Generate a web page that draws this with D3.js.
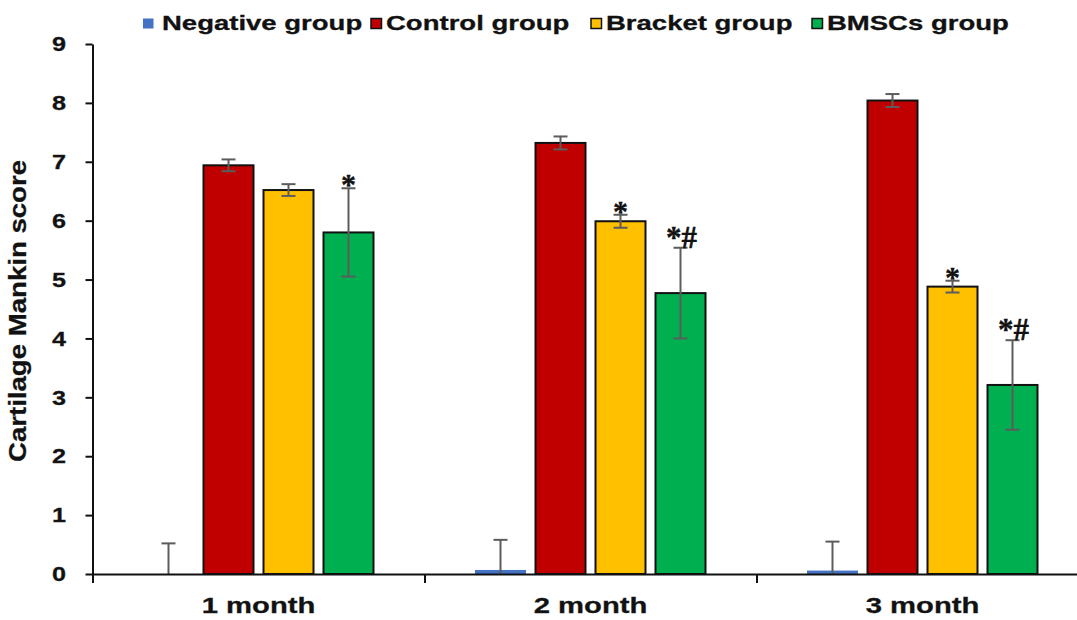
<!DOCTYPE html>
<html>
<head>
<meta charset="utf-8">
<script src="https://cdn.jsdelivr.net/npm/d3@7"></script>
<style>
  html, body { margin: 0; padding: 0; background: #fff; }
  svg { display: block; }
  text { font-family: "Liberation Sans", Arial, sans-serif; font-weight: bold; fill: #111; }
</style>
</head>
<body>
<svg id="chart" width="1077" height="620"></svg>
<script>
// Time points and groups
const months = ["1 month", "2 month", "3 month"];
const groups = ["Negative group", "Control group", "Bracket group", "BMSCs group"];

// Mean Mankin score per group at each time point
const negative = [0.00, 0.06, 0.05];
const control  = [6.94, 7.32, 8.04];
const bracket  = [6.52, 5.99, 4.88];
const bmscs    = [5.80, 4.77, 3.21];

// Error (± SD) per group at each time point
const negativeErr = [0.52, 0.52, 0.50];
const controlErr  = [0.10, 0.11, 0.11];
const bracketErr  = [0.10, 0.11, 0.10];
const bmscsErr    = [0.75, 0.77, 0.76];

// Significance marks shown above bars
const bracketMarks = ["", "*", "*"];
const bmscsMarks   = ["*", "*#", "*#"];

const yTicks = [0, 1, 2, 3, 4, 5, 6, 7, 8, 9];

const colors = ["#4472C4", "#C00000", "#FFC000", "#00B050"];

const values = [negative, control, bracket, bmscs];
const errors = [negativeErr, controlErr, bracketErr, bmscsErr];
const marks  = [months.map(() => ""), months.map(() => ""), bracketMarks, bmscsMarks];

const rows = [];
months.forEach((m, i) => {
  groups.forEach((g, j) => {
    rows.push({ month: m, group: g, gi: j, value: values[j][i], err: errors[j][i], mark: marks[j][i] });
  });
});

const svg = d3.select("#chart");
const plotLeft = 92.5, plotBottom = 574, plotTop = 44;
const catW = 332;

const y = d3.scaleLinear().domain([0, 9]).range([plotBottom, plotTop]);
const x0 = d3.scaleBand().domain(months).range([plotLeft, plotLeft + catW * months.length]).padding(0);
const x1 = d3.scaleBand().domain(groups).range([51, 281]).paddingInner(10 / 60).paddingOuter(0);
const xEdge = d3.scaleLinear().domain([0, months.length]).range([plotLeft, plotLeft + catW * months.length]);

// Bars
const gBars = svg.append("g");
gBars.selectAll("rect").data(rows).join("rect")
  .attr("x", d => x0(d.month) + x1(d.group))
  .attr("y", d => y(d.value))
  .attr("width", x1.bandwidth())
  .attr("height", d => y(0) - y(d.value))
  .attr("fill", d => colors[d.gi])
  .attr("stroke", d => d.gi === 0 ? colors[0] : "#111")
  .attr("stroke-width", d => d.gi === 0 ? 1 : 2);

// Error bars
const capW = 14;
const gErr = svg.append("g").attr("stroke", "#5c5c5c").attr("stroke-width", 2).attr("fill", "none");
rows.forEach(d => {
  const cx = x0(d.month) + x1(d.group) + x1.bandwidth() / 2;
  const hi = d.value + d.err;
  const lo = Math.max(0, d.value - d.err);
  gErr.append("line").attr("x1", cx).attr("x2", cx).attr("y1", y(hi)).attr("y2", y(lo));
  gErr.append("line").attr("x1", cx - capW / 2).attr("x2", cx + capW / 2).attr("y1", y(hi)).attr("y2", y(hi));
  if (d.value - d.err > 0) {
    gErr.append("line").attr("x1", cx - capW / 2).attr("x2", cx + capW / 2).attr("y1", y(lo)).attr("y2", y(lo));
  }
});

// Significance marks
svg.append("g").selectAll("text").data(rows.filter(d => d.mark)).join("text")
  .attr("x", d => x0(d.month) + x1(d.group) + x1.bandwidth() / 2 + (d.mark === "*" ? 0 : 1))
  .attr("y", d => y(d.value + d.err) + (d.mark === "*" ? 6 : 0))
  .attr("text-anchor", "middle")
  .attr("stroke", "#111").attr("stroke-width", 0.4)
  .style("font-family", "'Liberation Serif', 'Times New Roman', serif")
  .style("font-size", d => d.mark === "*" ? "30px" : "31px")
  .text(d => d.mark);

// Y axis
const yAxis = svg.append("g").attr("transform", `translate(${plotLeft},0)`)
  .call(d3.axisLeft(y).tickValues(yTicks).tickFormat(d3.format("d")).tickSize(7).tickSizeOuter(0).tickPadding(15));
yAxis.select(".domain").attr("stroke", "#111").attr("stroke-width", 2);
yAxis.selectAll(".tick line").attr("stroke", "#111").attr("stroke-width", 2);
yAxis.selectAll(".tick text")
  .style("font-size", "21px").attr("fill", "#222")
  .attr("stroke", "#222").attr("stroke-width", 0.3)
  .attr("transform", "scale(1.2,1)");

// X axis: boundary ticks
const xAxisEdges = svg.append("g").attr("transform", `translate(0,${plotBottom})`)
  .call(d3.axisBottom(xEdge).tickValues(d3.range(0, months.length + 1)).tickFormat("").tickSize(9).tickSizeOuter(0));
xAxisEdges.select(".domain").attr("stroke", "#111").attr("stroke-width", 2);
xAxisEdges.selectAll(".tick line").attr("stroke", "#111").attr("stroke-width", 2);

// X axis: category labels (stretched about each tick's centre)
const xAxisLabels = svg.append("g").attr("transform", `translate(0,${plotBottom})`)
  .call(d3.axisBottom(x0).tickSize(0));
xAxisLabels.select(".domain").remove();
xAxisLabels.selectAll(".tick text")
  .attr("y", 39).attr("dy", null)
  .style("font-size", "22px").attr("fill", "#222")
  .attr("stroke", "#222").attr("stroke-width", 0.3)
  .attr("transform", "scale(1.33,1)");

// Y axis title
svg.append("text")
  .attr("transform", "translate(26,311) rotate(-90) scale(1.2,1)")
  .attr("text-anchor", "middle")
  .style("font-size", "23px").attr("fill", "#222")
  .attr("stroke", "#222").attr("stroke-width", 0.3)
  .text("Cartilage Mankin score");

// Legend
const legendX = [143, 371, 591, 812];
const legend = svg.append("g");
groups.forEach((g, i) => {
  legend.append("rect")
    .attr("x", legendX[i]).attr("y", 18.5)
    .attr("width", 10.5).attr("height", 10)
    .attr("fill", colors[i])
    .attr("stroke", i === 0 ? "none" : "#111").attr("stroke-width", 1.5);
  legend.append("text")
    .attr("transform", `translate(${legendX[i] + (i === 0 ? 19 : 15)},30) scale(1.31,1)`)
    .style("font-size", "21px").attr("fill", "#111")
    .attr("stroke", "#111").attr("stroke-width", 0.3)
    .text(g);
});
</script>
</body>
</html>
